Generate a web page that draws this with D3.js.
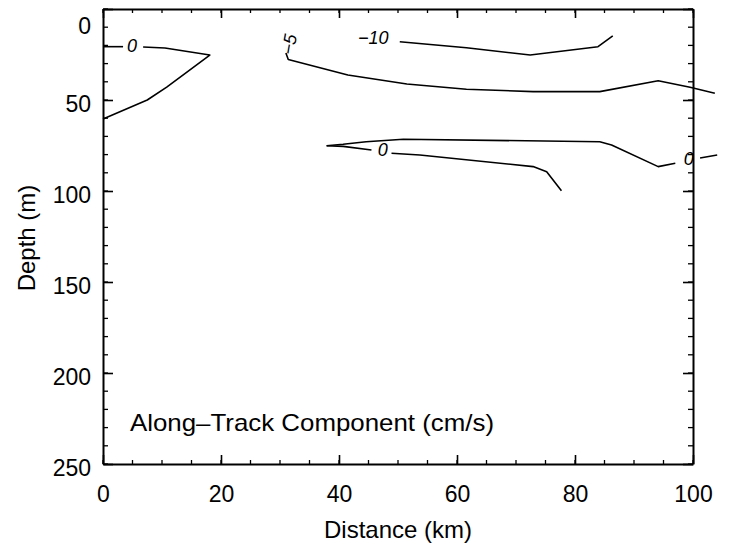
<!DOCTYPE html>
<html>
<head>
<meta charset="utf-8">
<script src="https://cdn.jsdelivr.net/npm/d3@7"></script>
<style>
  body { margin: 0; background: #fff; }
  text { font-family: "Liberation Sans", Arial, sans-serif; fill: #000; }
</style>
</head>
<body>
<div id="chart-area"></div>
<script>
// axis ticks
var xTicks = [0, 20, 40, 60, 80, 100];
var xMinor = d3.range(0, 101, 5);
var yTicks = [0, 50, 100, 150, 200, 250];
var yMinor = d3.range(0, 251, 10);

// contour lines [distance km, depth m], split where a label sits
var zeroWest = [
  [[0, 20.7], [3.4, 20.7]],
  [[6.8, 20.9], [10.5, 21.4], [18.1, 25.3], [10.8, 42.9], [7.5, 50.0], [0, 60.4]]
];
var minusFive = [
  [[31.0, 24.2], [31.4, 27.7], [41.5, 36.3], [51.5, 41.2], [61.6, 44.1], [72.9, 45.4],
   [84.2, 45.4], [94.1, 39.4], [99.5, 43.0], [103.7, 46.3]]
];
var minusTen = [
  [[50.3, 18.0], [61.6, 21.3], [72.4, 25.3], [83.9, 20.7], [86.4, 14.8]]
];
var zeroEast = [
  [[37.9, 75.1], [40.7, 74.3], [44.6, 72.9], [50.9, 71.6], [84.2, 72.9], [86.2, 74.7],
   [94.1, 86.6], [97.0, 84.8]],
  [[101.2, 81.9], [104.1, 80.2]],
  [[37.9, 75.1], [40.7, 75.5], [45.5, 77.5]],
  [[48.9, 79.3], [53.7, 80.2], [72.9, 86.6], [75.2, 89.4], [77.7, 99.8]]
];

// contour labels
var labelText = ["0", "\u22125", "\u221210", "0", "0"];
var labelX = [4.9, 31.5, 45.8, 47.4, 99.3];
var labelY = [20.3, 19.4, 15.7, 77.2, 82.4];
var labelAngle = [0, -80, 0, 0, 0];

var width = 734, height = 546;
var svg = d3.select("#chart-area")
  .append("svg")
  .attr("width", width)
  .attr("height", height);

var x = d3.scaleLinear().domain([0, 100]).range([103, 693]);
var y = d3.scaleLinear().domain([0, 250]).range([9, 464]);

// minor ticks, all four sides, pointing inward
var minor = svg.append("g").attr("stroke", "#000").attr("stroke-width", 1.3);
xMinor.forEach(function(d) {
  minor.append("line").attr("x1", x(d)).attr("x2", x(d)).attr("y1", y(250)).attr("y2", y(250) - 4);
  minor.append("line").attr("x1", x(d)).attr("x2", x(d)).attr("y1", y(0)).attr("y2", y(0) + 4);
});
yMinor.forEach(function(d) {
  minor.append("line").attr("y1", y(d)).attr("y2", y(d)).attr("x1", x(0)).attr("x2", x(0) + 5);
  minor.append("line").attr("y1", y(d)).attr("y2", y(d)).attr("x1", x(100)).attr("x2", x(100) - 5);
});

var axBottom = svg.append("g")
  .attr("transform", "translate(0," + y(250) + ")")
  .call(d3.axisBottom(x).tickValues(xTicks).tickSizeInner(-9).tickSizeOuter(0).tickPadding(22));
var axTop = svg.append("g")
  .attr("transform", "translate(0," + y(0) + ")")
  .call(d3.axisTop(x).tickValues(xTicks).tickSizeInner(-9).tickSizeOuter(0).tickFormat(""));
var axLeft = svg.append("g")
  .attr("transform", "translate(" + x(0) + ",0)")
  .call(d3.axisLeft(y).tickValues(yTicks).tickSizeInner(-10).tickSizeOuter(0).tickPadding(12));
var axRight = svg.append("g")
  .attr("transform", "translate(" + x(100) + ",0)")
  .call(d3.axisRight(y).tickValues(yTicks).tickSizeInner(-10).tickSizeOuter(0).tickFormat(""));

[axBottom, axTop, axLeft, axRight].forEach(function(g) {
  g.select(".domain").attr("stroke", "#000").attr("stroke-width", 2);
  g.selectAll(".tick line").attr("stroke", "#000").attr("stroke-width", 1.6);
  g.selectAll(".tick text")
    .style("font-family", "'Liberation Sans', Arial, sans-serif")
    .style("font-size", "23px");
});
axLeft.selectAll(".tick text").attr("dy", "0.5em");
// the 0 label sits lower, as in the original
axLeft.selectAll(".tick text").filter(function(d) { return d === 0; }).attr("dy", "1.05em");

// contours
var line = d3.line()
  .x(function(d) { return x(d[0]); })
  .y(function(d) { return y(d[1]); });

svg.append("g")
  .selectAll("path")
  .data([].concat(zeroWest, minusFive, minusTen, zeroEast))
  .enter()
  .append("path")
  .attr("d", line)
  .attr("fill", "none")
  .attr("stroke", "#000")
  .attr("stroke-width", 1.6)
  .attr("stroke-linejoin", "round");

svg.append("g")
  .selectAll("text")
  .data(labelText)
  .enter()
  .append("text")
  .attr("transform", function(d, i) {
    return "translate(" + x(labelX[i]) + "," + y(labelY[i]) + ") rotate(" + labelAngle[i] + ")";
  })
  .attr("text-anchor", "middle")
  .attr("dy", "0.36em")
  .style("font-size", "18px")
  .style("font-style", "italic")
  .text(function(d) { return d; });

// titles
svg.append("text")
  .attr("x", 398).attr("y", 538)
  .attr("text-anchor", "middle")
  .style("font-size", "24px")
  .text("Distance (km)");

svg.append("text")
  .attr("transform", "translate(35,238) rotate(-90)")
  .attr("text-anchor", "middle")
  .style("font-size", "24px")
  .text("Depth (m)");

svg.append("text")
  .attr("x", 130).attr("y", 431)
  .attr("textLength", 364)
  .attr("lengthAdjust", "spacingAndGlyphs")
  .style("font-size", "24px")
  .text("Along\u2013Track Component (cm/s)");
</script>
</body>
</html>
